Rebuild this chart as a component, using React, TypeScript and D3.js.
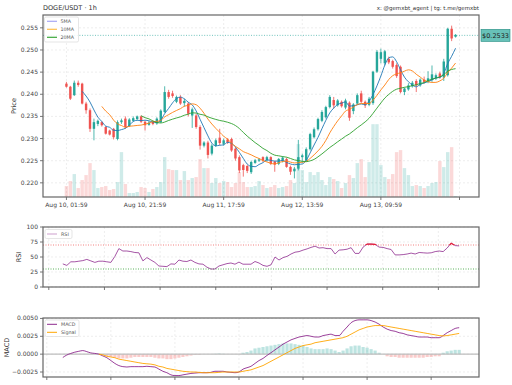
import * as d3 from 'd3';

const TITLE = 'DOGE/USDT · 1h';
const CREDIT = 'x: @gemxbt_agent | tg: t.me/gemxbt';
const LAST_PRICE = 0.2533;

// hourly candles, Aug 10 01:59 onwards
const OPEN = [
  0.2424, 0.2417, 0.2398, 0.2426, 0.2424, 0.2379, 0.2364, 0.2322, 0.2333, 0.2337,
  0.2326, 0.2318, 0.2322, 0.2299, 0.2337, 0.2345, 0.2328, 0.2340, 0.2344, 0.2350,
  0.2338, 0.2331, 0.2338, 0.2334, 0.2337, 0.2360, 0.2405, 0.2402, 0.2383, 0.2394,
  0.2380, 0.2379, 0.2352, 0.2352, 0.2326, 0.2284, 0.2291, 0.2266, 0.2284, 0.2302,
  0.2288, 0.2298, 0.2299, 0.2277, 0.2258, 0.2240, 0.2238, 0.2224, 0.2245, 0.2250,
  0.2258, 0.2251, 0.2258, 0.2248, 0.2243, 0.2250, 0.2254, 0.2236, 0.2226, 0.2232,
  0.2258, 0.2250, 0.2276, 0.2303, 0.2321, 0.2340, 0.2348, 0.2371, 0.2387, 0.2375,
  0.2383, 0.2370, 0.2381, 0.2362, 0.2379, 0.2402, 0.2383, 0.2376, 0.2380, 0.2451,
  0.2480, 0.2470, 0.2480, 0.2475, 0.2466, 0.2462, 0.2405, 0.2411, 0.2418, 0.2430,
  0.2420, 0.2433, 0.2428, 0.2432, 0.2436, 0.2447, 0.2438, 0.2443, 0.2548, 0.2530,
];
const HIGH = [
  0.2428, 0.2419, 0.2431, 0.2431, 0.2426, 0.2383, 0.2368, 0.2345, 0.2343, 0.2339,
  0.2328, 0.2320, 0.2324, 0.2341, 0.2345, 0.2350, 0.2346, 0.2350, 0.2352, 0.2352,
  0.2340, 0.2340, 0.2341, 0.2348, 0.2366, 0.2418, 0.2410, 0.2408, 0.2397, 0.2398,
  0.2390, 0.2382, 0.2370, 0.2356, 0.2330, 0.2294, 0.2295, 0.2288, 0.2300, 0.2322,
  0.2300, 0.2301, 0.2302, 0.2280, 0.2262, 0.2243, 0.2241, 0.2250, 0.2254, 0.2256,
  0.2260, 0.2261, 0.2260, 0.2250, 0.2256, 0.2260, 0.2257, 0.2239, 0.2236, 0.2297,
  0.2266, 0.2280, 0.2313, 0.2325, 0.2347, 0.2364, 0.2374, 0.2398, 0.2394, 0.2389,
  0.2386, 0.2390, 0.2384, 0.2380, 0.2402, 0.2408, 0.2386, 0.2394, 0.2453, 0.2500,
  0.2503, 0.2500, 0.2485, 0.2478, 0.2470, 0.2465, 0.2415, 0.2425, 0.2430, 0.2434,
  0.2436, 0.2440, 0.2452, 0.2465, 0.2447, 0.2451, 0.2480, 0.2550, 0.2555, 0.2536,
];
const LOW = [
  0.2415, 0.2387, 0.2396, 0.2417, 0.2377, 0.2356, 0.2315, 0.2296, 0.2328, 0.2327,
  0.2309, 0.2307, 0.2298, 0.2296, 0.2333, 0.2322, 0.2326, 0.2338, 0.2341, 0.2335,
  0.2318, 0.2329, 0.2330, 0.2331, 0.2335, 0.2358, 0.2390, 0.2392, 0.2380, 0.2376,
  0.2372, 0.2350, 0.2324, 0.2322, 0.2275, 0.2280, 0.2255, 0.2262, 0.2281, 0.2285,
  0.2284, 0.2288, 0.2270, 0.2250, 0.2222, 0.2214, 0.2222, 0.2220, 0.2243, 0.2247,
  0.2247, 0.2248, 0.2240, 0.2225, 0.2240, 0.2246, 0.2234, 0.2218, 0.2210, 0.2228,
  0.2245, 0.2248, 0.2273, 0.2300, 0.2318, 0.2337, 0.2345, 0.2368, 0.2368, 0.2372,
  0.2370, 0.2366, 0.2340, 0.2355, 0.2376, 0.2380, 0.2369, 0.2373, 0.2376, 0.2448,
  0.2470, 0.2465, 0.2468, 0.2458, 0.2437, 0.2402, 0.2398, 0.2408, 0.2415, 0.2405,
  0.2417, 0.2424, 0.2425, 0.2428, 0.2432, 0.2435, 0.2430, 0.2440, 0.2520, 0.2528,
];
const CLOSE = [
  0.2417, 0.2390, 0.2426, 0.2421, 0.2379, 0.2364, 0.2322, 0.2337, 0.2340, 0.2330,
  0.2311, 0.2309, 0.2303, 0.2337, 0.2341, 0.2326, 0.2343, 0.2346, 0.2350, 0.2338,
  0.2330, 0.2336, 0.2333, 0.2345, 0.2363, 0.2405, 0.2394, 0.2396, 0.2394, 0.2379,
  0.2385, 0.2356, 0.2366, 0.2326, 0.2284, 0.2291, 0.2263, 0.2284, 0.2296, 0.2290,
  0.2296, 0.2291, 0.2273, 0.2255, 0.2228, 0.2229, 0.2227, 0.2247, 0.2251, 0.2253,
  0.2250, 0.2258, 0.2243, 0.2241, 0.2254, 0.2257, 0.2236, 0.2225, 0.2232, 0.2258,
  0.2262, 0.2276, 0.2310, 0.2321, 0.2344, 0.2360, 0.2371, 0.2394, 0.2375, 0.2386,
  0.2373, 0.2386, 0.2347, 0.2377, 0.2398, 0.2383, 0.2375, 0.2390, 0.2451, 0.2496,
  0.2495, 0.2497, 0.2472, 0.2462, 0.2441, 0.2405, 0.2413, 0.2420, 0.2426, 0.2420,
  0.2433, 0.2428, 0.2436, 0.2445, 0.2443, 0.2438, 0.2474, 0.2548, 0.2526, 0.2534,
];
// volume, millions DOGE
const VOLUME = [
  11, 16, 23, 9, 17, 22, 34, 27, 9, 10,
  11, 7, 8, 15, 45, 13, 4, 4, 5, 10,
  9, 5, 8, 10, 15, 40, 28, 27, 27, 17,
  26, 17, 19, 20, 38, 29, 29, 14, 19, 14,
  16, 15, 10, 14, 25, 15, 10, 10, 11, 16,
  12, 9, 10, 12, 9, 10, 11, 17, 14, 53,
  27, 15, 25, 22, 25, 17, 12, 20, 18, 16,
  9, 14, 22, 19, 34, 38, 20, 35, 73, 73,
  32, 20, 18, 23, 45, 47, 29, 22, 11, 12,
  11, 9, 11, 14, 15, 36, 30, 45, 50, 1,
];
const RSI = [
  38.5, 36, 42, 42, 43, 44, 46, 43.5, 41, 43,
  43, 42, 41, 51, 64, 60, 60, 59, 57.5, 57,
  43.5, 49, 45, 41, 35, 34.5, 34, 38.5, 38, 45,
  43, 42.5, 45, 41, 38.5, 38, 33, 30, 30, 35,
  37, 39, 40, 38, 41.5, 38, 38, 38, 42.5, 40,
  36, 34.5, 37, 50, 45, 49, 51, 55, 58, 59,
  61.5, 63.5, 66, 68, 65, 65.5, 64, 64, 55, 61.5,
  62, 63, 65.5, 56, 56, 66.5, 71.5, 71.5, 71, 66.5,
  66, 64, 62.5, 53.5, 53.5, 54, 55, 56.5, 55, 57.5,
  57, 56.5, 57, 59, 60, 59, 65, 73, 69, 68.5,
];
const MACD = [
  -0.00047, -0.00012, 0.0001, 0.00028, 0.0004, 0.0005, 0.00035, 0.00017, 0.0001, 0.0,
  -0.00025, -0.0005, -0.0009, -0.0013, -0.0016, -0.00175, -0.0018, -0.00175, -0.00175, -0.00175,
  -0.00175, -0.0017, -0.00175, -0.0018, -0.0021, -0.0024, -0.0026, -0.0029, -0.003, -0.003,
  -0.0029, -0.0028, -0.0027, -0.00265, -0.0026, -0.0026, -0.0026, -0.00255, -0.0024, -0.0024,
  -0.0024, -0.0025, -0.00255, -0.0026, -0.0025, -0.0021, -0.0019, -0.0017, -0.0013, -0.0009,
  -0.0006, -0.00018, 0.0002, 0.0006, 0.001, 0.0014, 0.0017, 0.002, 0.0022, 0.0024,
  0.0025, 0.0026, 0.0025, 0.0024, 0.0024, 0.0026, 0.0027, 0.0028, 0.0026, 0.0026,
  0.0032, 0.0038, 0.0044, 0.0047, 0.0048, 0.0048, 0.0048, 0.0047, 0.0045, 0.0042,
  0.0038, 0.0035, 0.0033, 0.0032, 0.003, 0.0029, 0.0027, 0.0026, 0.0025, 0.0024,
  0.0024, 0.0024, 0.0023, 0.0023, 0.0023, 0.0026, 0.003, 0.0033, 0.0036, 0.0037,
];
const SIGNAL = [
  null, null, null, null, null, null, null, null, null, 0.0,
  -0.0001, -0.0003, -0.0004, -0.0005, -0.0007, -0.0008, -0.0009, -0.001, -0.0011, -0.0012,
  -0.0013, -0.00135, -0.0014, -0.0015, -0.0017, -0.0018, -0.002, -0.0021, -0.0022, -0.0023,
  -0.0024, -0.00245, -0.0025, -0.0025, -0.00255, -0.0026, -0.0026, -0.0026, -0.0026, -0.00255,
  -0.0025, -0.0025, -0.0025, -0.0025, -0.0025, -0.0024, -0.0023, -0.0022, -0.002, -0.0018,
  -0.0016, -0.0013, -0.001, -0.0007, -0.0004, -0.0001, 0.0002, 0.0005, 0.0008, 0.001,
  0.0012, 0.0013, 0.0014, 0.0016, 0.0017, 0.0018, 0.0019, 0.002, 0.0021, 0.0022,
  0.0023, 0.0025, 0.0028, 0.0031, 0.0034, 0.0036, 0.0038, 0.0039, 0.004, 0.004,
  0.004, 0.0039, 0.0038, 0.0037, 0.0036, 0.0035, 0.0034, 0.0033, 0.0032, 0.0031,
  0.003, 0.0029, 0.0028, 0.0027, 0.0026, 0.00255, 0.0026, 0.0027, 0.0028, 0.0029,
];
const HIST = [
  null, null, null, null, null, null, null, null, null, null,
  -0.0001, -0.0003, -0.0004, -0.0005, -0.0006, -0.0006, -0.0006, -0.0005, -0.0004, -0.0004,
  -0.0004, -0.0004, -0.0004, -0.0005, -0.0006, -0.0006, -0.0007, -0.0007, -0.0006, -0.0005,
  -0.0004, -0.0003, -0.0002, -0.0001, -0.0001, 0, 0, 0, 0.00005, 0.0001,
  0.00005, 0, 0, 0, 0, 0.0002, 0.0003, 0.0005, 0.0008, 0.0009,
  0.001, 0.0011, 0.0012, 0.0013, 0.0014, 0.0015, 0.0015, 0.0015, 0.0014, 0.0013,
  0.0012, 0.001, 0.0008, 0.0007, 0.0007, 0.0007, 0.0008, 0.0007, 0.0005, 0.0003,
  0.0005, 0.0008, 0.0011, 0.0012, 0.0012, 0.001, 0.0009, 0.0007, 0.0005, 0.0002,
  0, -0.0003, -0.0004, -0.0004, -0.0005, -0.0005, -0.0005, -0.0005, -0.0005, -0.0005,
  -0.0005, -0.0004, -0.0004, -0.0003, -0.0003, 0.0002, 0.0004, 0.0005, 0.0006, 0.0006,
];

const TIME_TICKS = [0, 20, 40, 60, 80, 100];
const TIME_LABELS = ['Aug 10, 01:59', 'Aug 10, 21:59', 'Aug 11, 17:59', 'Aug 12, 13:59', 'Aug 13, 09:59', ''];
const PRICE_TICKS = [0.22, 0.225, 0.23, 0.235, 0.24, 0.245, 0.25, 0.255];
const RSI_TICKS = [0, 25, 50, 75, 100];
const RSI_XTICKS = [-3.5, 10.4, 24.3, 38.2, 52.1, 66, 79.9, 93.8];
const MACD_TICKS = [-0.0025, 0, 0.0025, 0.005];
const MACD_XTICKS = [-4, 12, 28, 44, 60, 76, 92];
const MA_PERIODS = [5, 10, 20];
const MA_COLORS = ['#1f77b4', '#ff7f0e', '#2ca02c'];
const MA_LEGEND = ['#a7a7f5', '#ffc04d', '#3aa83a'];

const UP = '#26a69a';
const DOWN = '#ef5350';
const FONT = 'DejaVu Sans, sans-serif';
const L = 43, R = 479;
const P = { top: 15, bottom: 197 };
const RS = { top: 227, bottom: 287 };
const MC = { top: 318, bottom: 377 };

const movingAvg = (n: number) =>
  CLOSE.map((_, i) => (i < n - 1 ? null : d3.mean(CLOSE.slice(i - n + 1, i + 1)) as number));

function Frame({ top, bottom }: { top: number; bottom: number }) {
  return <rect x={L} y={top} width={R - L} height={bottom - top} fill="none" stroke="#666" strokeWidth={1.2} />;
}

export default function App() {
  const idx = d3.range(CLOSE.length);
  const x = d3.scaleLinear().domain([-5.96, 104.96]).range([L, R]);
  const xi = d3.scaleLinear().domain([-4.95, 103.95]).range([L, R]);
  const y = d3.scaleLinear().domain([0.2168, 0.2579]).range([P.bottom, P.top]);
  const yVol = d3.scaleLinear().domain([0, (d3.max(VOLUME) as number) * 2.5]).range([P.bottom, P.top]);
  const yR = d3.scaleLinear().domain([0, 100]).range([RS.bottom, RS.top]);
  const yM = d3.scaleLinear().domain([-0.0032, 0.00506]).range([MC.bottom, MC.top]);

  const maLine = d3.line<number | null>()
    .defined((d) => d != null)
    .x((_, i) => x(i))
    .y((d) => y(d as number))
    .curve(d3.curveMonotoneX);
  const rsiLine = d3.line<number>().x((_, i) => xi(i)).y((d) => yR(d));
  const mLine = d3.line<number | null>()
    .defined((d) => d != null)
    .x((_, i) => xi(i))
    .y((d) => yM(d as number))
    .curve(d3.curveMonotoneX);

  const fmtP = d3.format('.3f');
  const fmtM = d3.format('.4f');
  const tickTxt = { fontSize: 6, fill: '#444', fontFamily: FONT };
  const grid = { stroke: '#e3e3e3', strokeWidth: 0.6, strokeDasharray: '2,2' };

  return (
    <svg width={512} height={385} style={{ position: 'absolute', left: 0, top: 0, background: '#fff' }}>
      <defs>
        <clipPath id="above70">
          <rect x={L} y={RS.top} width={R - L} height={yR(70) - RS.top} />
        </clipPath>
      </defs>
      <text x={L} y={10} fontSize={6.5} fill="#333" fontFamily={FONT}>{TITLE}</text>
      <text x={R} y={10} fontSize={5.5} fill="#333" fontFamily={FONT} textAnchor="end">{CREDIT}</text>

      {/* ---- price panel ---- */}
      {PRICE_TICKS.map((t) => (
        <g key={t}>
          <line x1={L} x2={R} y1={y(t)} y2={y(t)} {...grid} />
          <line x1={L - 3} x2={L} y1={y(t)} y2={y(t)} stroke="#555" strokeWidth={0.8} />
          <text x={L - 5} y={y(t) + 2} textAnchor="end" {...tickTxt}>{fmtP(t)}</text>
        </g>
      ))}
      {TIME_TICKS.map((t, k) => (
        <g key={t}>
          <line x1={x(t)} x2={x(t)} y1={P.top} y2={P.bottom} {...grid} />
          <line x1={x(t)} x2={x(t)} y1={P.bottom} y2={P.bottom + 3} stroke="#555" strokeWidth={0.8} />
          <text x={x(t)} y={P.bottom + 10} textAnchor="middle" {...tickTxt}>{TIME_LABELS[k]}</text>
        </g>
      ))}
      {idx.map((i) => (
        <rect key={i} x={x(i) - 1.7} width={3.4} y={yVol(VOLUME[i])} height={P.bottom - yVol(VOLUME[i])}
          fill={CLOSE[i] >= OPEN[i] ? UP : DOWN} opacity={0.22} />
      ))}
      <line x1={L} x2={R} y1={y(LAST_PRICE)} y2={y(LAST_PRICE)} stroke={UP} strokeWidth={0.8} strokeDasharray="1,1.6" opacity={0.8} />
      {idx.map((i) => {
        const c = CLOSE[i] >= OPEN[i] ? UP : DOWN;
        const top = y(Math.max(OPEN[i], CLOSE[i]));
        const h = Math.max(0.7, Math.abs(y(OPEN[i]) - y(CLOSE[i])));
        return (
          <g key={i}>
            <line x1={x(i)} x2={x(i)} y1={y(HIGH[i])} y2={y(LOW[i])} stroke={c} strokeWidth={0.8} />
            <rect x={x(i) - 1.2} width={2.4} y={top} height={h} fill={c} />
          </g>
        );
      })}
      {MA_PERIODS.map((n, k) => (
        <path key={n} d={maLine(movingAvg(n)) ?? ''} fill="none" stroke={MA_COLORS[k]} strokeWidth={0.9} />
      ))}
      <Frame {...P} />
      <rect x={44.5} y={17} width={34} height={25} fill="#fff" fillOpacity={0.85} stroke="#d5d5d5" strokeWidth={0.6} rx={1.5} />
      {MA_PERIODS.map((n, k) => (
        <g key={n}>
          <line x1={47} x2={57} y1={21.3 + k * 8} y2={21.3 + k * 8} stroke={MA_LEGEND[k]} strokeWidth={1.2} />
          <text x={60.5} y={23 + k * 8} fontSize={4.8} fill="#555" fontFamily={FONT}>{n}MA</text>
        </g>
      ))}
      <rect x={R + 2} y={y(LAST_PRICE) - 6} width={29} height={12} fill={UP} fillOpacity={0.7} stroke="#1e8a80" strokeWidth={0.6} />
      <text x={R + 16.5} y={y(LAST_PRICE) + 2.3} textAnchor="middle" fontSize={6.5} fill="#222" fontFamily={FONT}>
        {'$' + LAST_PRICE.toFixed(4)}
      </text>
      <text transform={`translate(16,${(P.top + P.bottom) / 2}) rotate(-90)`} textAnchor="middle" fontSize={6.5} fill="#333" fontFamily={FONT}>Price</text>

      {/* ---- RSI panel ---- */}
      {RSI_TICKS.map((t) => (
        <g key={t}>
          <line x1={L} x2={R} y1={yR(t)} y2={yR(t)} {...grid} />
          <line x1={L - 3} x2={L} y1={yR(t)} y2={yR(t)} stroke="#555" strokeWidth={0.8} />
          <text x={L - 5} y={yR(t) + 2} textAnchor="end" {...tickTxt}>{t}</text>
        </g>
      ))}
      {RSI_XTICKS.map((t) => (
        <g key={t}>
          <line x1={xi(t)} x2={xi(t)} y1={RS.top} y2={RS.bottom} {...grid} />
          <line x1={xi(t)} x2={xi(t)} y1={RS.bottom} y2={RS.bottom + 3} stroke="#555" strokeWidth={0.8} />
        </g>
      ))}
      <line x1={L} x2={R} y1={yR(70)} y2={yR(70)} stroke="#f06060" strokeWidth={0.8} strokeDasharray="1,1.5" />
      <line x1={L} x2={R} y1={yR(30)} y2={yR(30)} stroke="#30a030" strokeWidth={0.8} strokeDasharray="1,1.5" />
      <path d={rsiLine(RSI) ?? ''} fill="none" stroke="#8e2a8e" strokeWidth={0.8} />
      <path d={rsiLine(RSI) ?? ''} fill="none" stroke="#e8203a" strokeWidth={1.2} clipPath="url(#above70)" />
      <Frame {...RS} />
      <rect x={45} y={229.5} width={27} height={9} fill="#fff" fillOpacity={0.85} stroke="#d5d5d5" strokeWidth={0.6} rx={1.5} />
      <line x1={47} x2={57} y1={234} y2={234} stroke="#d6b0d6" strokeWidth={1.2} />
      <text x={61} y={235.7} fontSize={4.8} fill="#555" fontFamily={FONT}>RSI</text>
      <text transform={`translate(21,${(RS.top + RS.bottom) / 2}) rotate(-90)`} textAnchor="middle" fontSize={6.5} fill="#333" fontFamily={FONT}>RSI</text>

      {/* ---- MACD panel ---- */}
      {MACD_TICKS.map((t) => (
        <g key={t}>
          <line x1={L} x2={R} y1={yM(t)} y2={yM(t)} {...grid} />
          <line x1={L - 3} x2={L} y1={yM(t)} y2={yM(t)} stroke="#555" strokeWidth={0.8} />
          <text x={L - 5} y={yM(t) + 2} textAnchor="end" {...tickTxt}>{fmtM(t)}</text>
        </g>
      ))}
      {MACD_XTICKS.map((t) => (
        <g key={t}>
          <line x1={xi(t)} x2={xi(t)} y1={MC.top} y2={MC.bottom} {...grid} />
          <line x1={xi(t)} x2={xi(t)} y1={MC.bottom} y2={MC.bottom + 3} stroke="#555" strokeWidth={0.8} />
        </g>
      ))}
      {idx.map((i) => {
        const v = HIST[i];
        if (v == null || v === 0) return null;
        return (
          <rect key={i} x={xi(i) - 1.6} width={3.2} y={yM(Math.max(v, 0))} height={Math.abs(yM(v) - yM(0))}
            fill={v > 0 ? UP : DOWN} opacity={0.3} />
        );
      })}
      <line x1={L} x2={R} y1={yM(0)} y2={yM(0)} stroke="#bdbdbd" strokeWidth={1.4} />
      <path d={mLine(MACD) ?? ''} fill="none" stroke="#8e2a8e" strokeWidth={0.9} />
      <path d={mLine(SIGNAL) ?? ''} fill="none" stroke="#ffa500" strokeWidth={0.9} />
      <Frame {...MC} />
      <rect x={45} y={320} width={34} height={16.5} fill="#fff" fillOpacity={0.85} stroke="#d5d5d5" strokeWidth={0.6} rx={1.5} />
      <line x1={47} x2={57} y1={324.3} y2={324.3} stroke="#8e2a8e" strokeWidth={1} />
      <text x={61} y={326} fontSize={4.8} fill="#555" fontFamily={FONT}>MACD</text>
      <line x1={47} x2={57} y1={332.3} y2={332.3} stroke="#ffa500" strokeWidth={1} />
      <text x={61} y={334} fontSize={4.8} fill="#555" fontFamily={FONT}>Signal</text>
      <text transform={`translate(9,${(MC.top + MC.bottom) / 2}) rotate(-90)`} textAnchor="middle" fontSize={6.5} fill="#333" fontFamily={FONT}>MACD</text>
    </svg>
  );
}
